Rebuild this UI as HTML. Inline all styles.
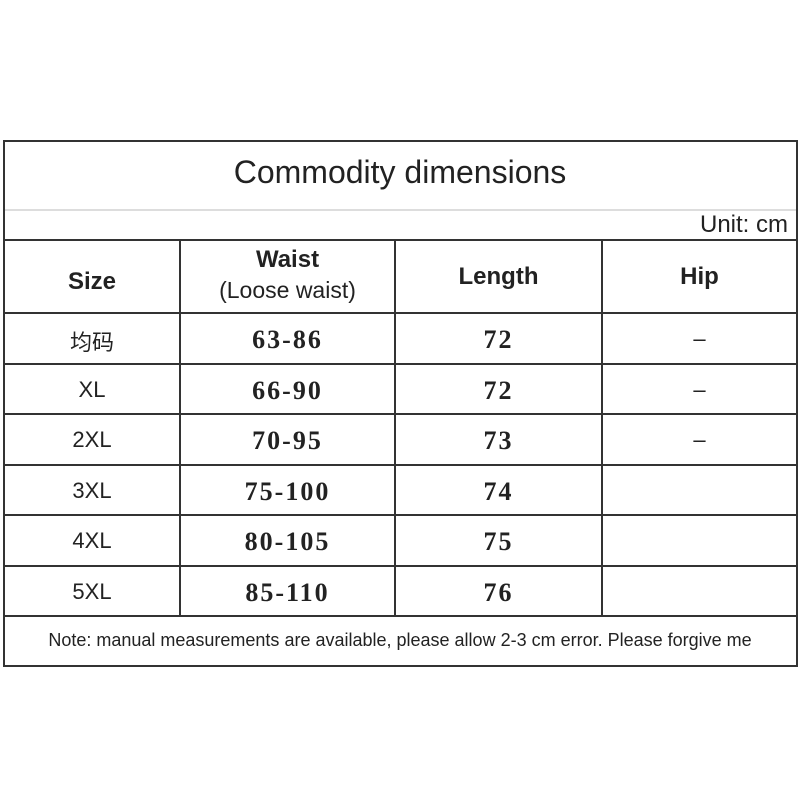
<!DOCTYPE html><html><head><style>
body{margin:0;width:800px;height:800px;background:#fff;position:relative;font-family:"Liberation Sans","Noto Sans CJK SC",sans-serif;color:#222;overflow:hidden}
.h,.v{position:absolute;background:#333}
.h{height:2px}.v{width:2px}
.t{position:absolute;text-align:center;white-space:nowrap}
.d{font-family:"Liberation Serif",serif;font-weight:bold;font-size:26px;letter-spacing:2px;color:#222}
.s{font-size:22px}
</style></head><body>
<div class="h" style="left:3px;width:795px;top:140px"></div>
<div class="h" style="left:3px;width:795px;top:209px;background:#ddd"></div>
<div class="h" style="left:3px;width:795px;top:239px"></div>
<div class="h" style="left:3px;width:795px;top:312px"></div>
<div class="h" style="left:3px;width:795px;top:363px"></div>
<div class="h" style="left:3px;width:795px;top:413px"></div>
<div class="h" style="left:3px;width:795px;top:464px"></div>
<div class="h" style="left:3px;width:795px;top:514px"></div>
<div class="h" style="left:3px;width:795px;top:565px"></div>
<div class="h" style="left:3px;width:795px;top:615px"></div>
<div class="h" style="left:3px;width:795px;top:665px"></div>
<div class="v" style="left:3px;top:140px;height:527px"></div>
<div class="v" style="left:796px;top:140px;height:527px"></div>
<div class="v" style="left:179px;top:239px;height:377px"></div>
<div class="v" style="left:394px;top:239px;height:377px"></div>
<div class="v" style="left:601px;top:239px;height:377px"></div>
<div class="t" style="left:0;width:800px;top:154px;font-size:32px">Commodity dimensions</div>
<div class="t" style="right:12px;top:211px;font-size:24px">Unit: cm</div>
<div class="t s" style="left:4px;width:176px;top:268px;font-weight:bold;font-size:24px">Size</div>
<div class="t" style="left:180px;width:215px;top:246px;font-weight:bold;font-size:24px">Waist</div>
<div class="t" style="left:180px;width:215px;top:277px;font-size:23px">(Loose waist)</div>
<div class="t" style="left:395px;width:207px;top:263px;font-weight:bold;font-size:24px">Length</div>
<div class="t" style="left:602px;width:195px;top:263px;font-weight:bold;font-size:24px">Hip</div>
<div class="t s" style="left:4px;width:176px;top:325px">均码</div>
<div class="t s" style="left:4px;width:176px;top:377px">XL</div>
<div class="t s" style="left:4px;width:176px;top:427px">2XL</div>
<div class="t s" style="left:4px;width:176px;top:478px">3XL</div>
<div class="t s" style="left:4px;width:176px;top:528px">4XL</div>
<div class="t s" style="left:4px;width:176px;top:579px">5XL</div>
<div class="t d" style="left:180px;width:215px;top:325px">63-86</div>
<div class="t d" style="left:180px;width:215px;top:376px">66-90</div>
<div class="t d" style="left:180px;width:215px;top:426px">70-95</div>
<div class="t d" style="left:180px;width:215px;top:477px">75-100</div>
<div class="t d" style="left:180px;width:215px;top:527px">80-105</div>
<div class="t d" style="left:180px;width:215px;top:578px">85-110</div>
<div class="t d" style="left:395px;width:207px;top:325px">72</div>
<div class="t d" style="left:395px;width:207px;top:376px">72</div>
<div class="t d" style="left:395px;width:207px;top:426px">73</div>
<div class="t d" style="left:395px;width:207px;top:477px">74</div>
<div class="t d" style="left:395px;width:207px;top:527px">75</div>
<div class="t d" style="left:395px;width:207px;top:578px">76</div>
<div class="t s" style="left:602px;width:195px;top:326px">–</div>
<div class="t s" style="left:602px;width:195px;top:377px">–</div>
<div class="t s" style="left:602px;width:195px;top:427px">–</div>
<div class="t" style="left:0;width:800px;top:630px;font-size:18px">Note: manual measurements are available, please allow 2-3 cm error. Please forgive me</div>
</body></html>
